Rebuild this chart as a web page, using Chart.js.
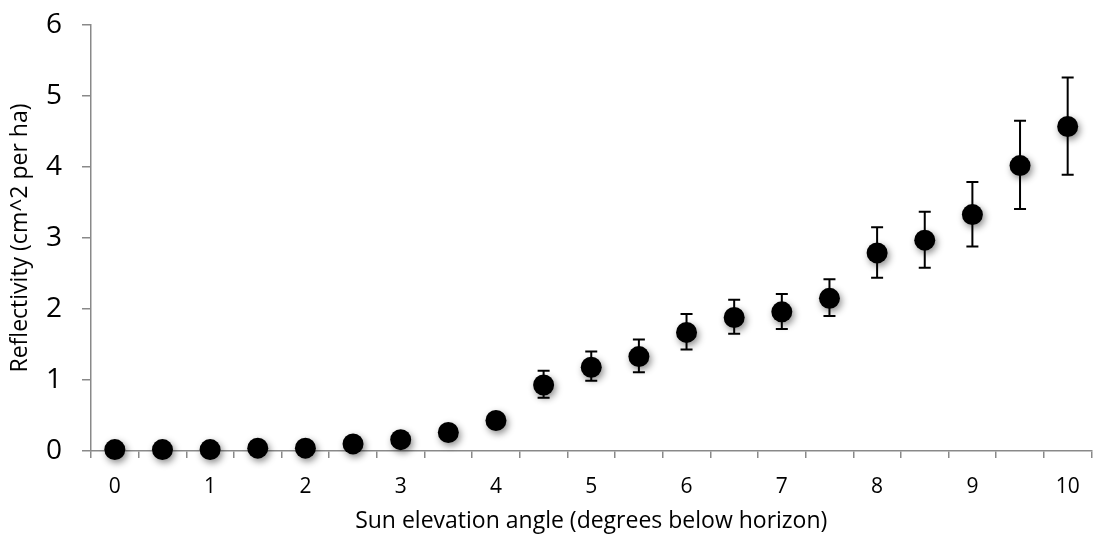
<!DOCTYPE html>
<html>
<head>
<meta charset="utf-8">
<script src="https://cdn.jsdelivr.net/npm/chart.js@4/dist/chart.umd.min.js"></script>
<style>
  html, body { margin: 0; padding: 0; background: #fff; }
  #wrap { width: 1102px; height: 550px; }
</style>
</head>
<body>
<div id="wrap"><canvas id="myChart" width="1102" height="550"></canvas></div>
<script>
// sun angle below horizon, in half-degree steps
const angles = ['0', '0.5', '1', '1.5', '2', '2.5', '3', '3.5', '4', '4.5', '5',
  '5.5', '6', '6.5', '7', '7.5', '8', '8.5', '9', '9.5', '10'];

// mean reflectivity (cm^2 per ha)
const reflectivity = [0.02, 0.02, 0.02, 0.04, 0.04, 0.10, 0.16, 0.26, 0.43, 0.93, 1.18,
  1.33, 1.67, 1.88, 1.96, 2.15, 2.79, 2.97, 3.33, 4.02, 4.57];

// error bar ends (null = too small to show)
const errLow = [null, null, null, null, null, null, null, null, null, 0.75, 0.99,
  1.11, 1.43, 1.65, 1.72, 1.90, 2.44, 2.58, 2.88, 3.41, 3.89];
const errHigh = [null, null, null, null, null, null, null, null, null, 1.13, 1.40,
  1.57, 1.93, 2.13, 2.21, 2.42, 3.15, 3.37, 3.79, 4.65, 5.26];

const axisGray = '#898989';
const font = 'Open Sans';

// error bars go under the dots, then the dots get a soft drop shadow
const errorBarsAndShadow = {
  id: 'errorBarsAndShadow',
  beforeDatasetsDraw(chart) {
    const ctx = chart.ctx;
    const x = chart.scales.x;
    const y = chart.scales.y;
    ctx.save();
    ctx.strokeStyle = '#000';
    ctx.lineWidth = 2;
    for (let i = 0; i < angles.length; i++) {
      if (errLow[i] == null || errHigh[i] == null) continue;
      const px = x.getPixelForValue(i);
      const top = y.getPixelForValue(errHigh[i]);
      const bot = y.getPixelForValue(errLow[i]);
      ctx.beginPath();
      ctx.moveTo(px, top);
      ctx.lineTo(px, bot);
      ctx.moveTo(px - 6, top);
      ctx.lineTo(px + 6, top);
      ctx.moveTo(px - 6, bot);
      ctx.lineTo(px + 6, bot);
      ctx.stroke();
    }
    ctx.restore();

    ctx.save();
    ctx.shadowColor = 'rgba(0, 0, 0, 0.45)';
    ctx.shadowBlur = 7;
    ctx.shadowOffsetX = 2;
    ctx.shadowOffsetY = 3;
  },
  afterDatasetsDraw(chart) {
    chart.ctx.restore();
  }
};

const ctx = document.getElementById('myChart').getContext('2d');
const myChart = new Chart(ctx, {
  type: 'line',
  data: {
    labels: angles,
    datasets: [
      {
        label: 'Reflectivity',
        data: reflectivity,
        showLine: false,
        clip: false,
        pointRadius: 10.5,
        pointHoverRadius: 10.5,
        pointBackgroundColor: '#000',
        pointBorderColor: '#000',
        pointBorderWidth: 0,
      },
    ],
  },
  options: {
    responsive: false,
    animation: false,
    layout: {
      padding: { left: 0, top: 25, right: 9, bottom: 0 },
    },
    plugins: {
      legend: { display: false },
      tooltip: { enabled: false },
    },
    scales: {
      x: {
        type: 'category',
        offset: true,
        grid: {
          offset: true,
          drawOnChartArea: false,
          tickLength: 7,
          color: axisGray,
          lineWidth: 1.5,
        },
        border: { color: axisGray, width: 1.5 },
        ticks: {
          autoSkip: false,
          maxRotation: 0,
          color: '#000',
          padding: 16,
          font: { family: font, size: 21 },
          callback: function (value, index) {
            return index % 2 === 0 ? angles[index] : '';
          },
        },
        title: {
          display: true,
          text: 'Sun elevation angle (degrees below horizon)',
          color: '#000',
          font: { family: font, size: 23 },
          padding: { top: 0, bottom: 15 },
        },
        afterFit(scale) {
          scale.height = 99;
          scale.paddingLeft = 0;
          scale.paddingRight = 0;
        },
      },
      y: {
        min: 0,
        max: 6,
        grid: {
          drawOnChartArea: false,
          tickLength: 9,
          color: axisGray,
          lineWidth: 1.5,
        },
        border: { color: axisGray, width: 1.5 },
        ticks: {
          stepSize: 1,
          color: '#000',
          padding: 20,
          font: { family: font, size: 28 },
        },
        title: {
          display: true,
          text: 'Reflectivity (cm^2 per ha)',
          color: '#000',
          font: { family: font, size: 23 },
          padding: { top: 7, bottom: 0 },
        },
        afterFit(scale) {
          scale.width = 91;
          // keep the top label from pushing the plot area down
          scale.paddingTop = 0;
          scale.paddingBottom = 0;
        },
      },
    },
  },
  plugins: [errorBarsAndShadow],
});
</script>
</body>
</html>
